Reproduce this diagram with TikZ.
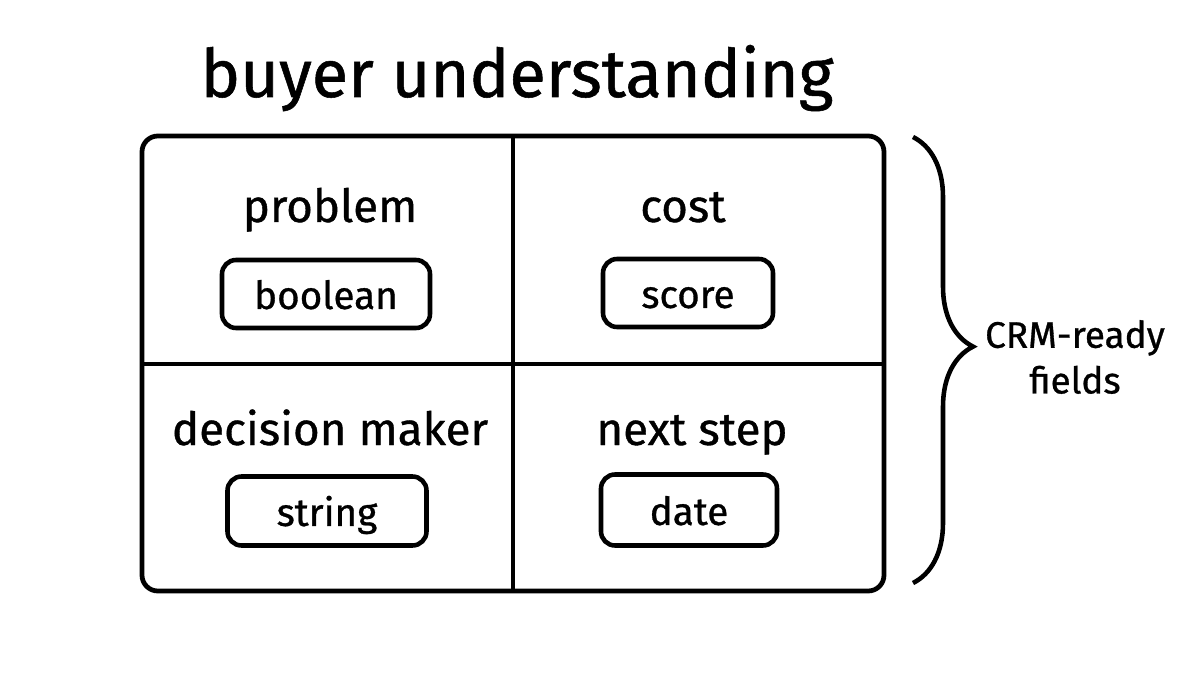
\documentclass[tikz,border=0pt]{standalone}
\usepackage{fontspec}
\setmainfont{Fira Sans}[FakeBold = 0.8]
\usetikzlibrary{decorations.pathreplacing}

\tikzset{
  fieldname/.style = {anchor = base, font = \fontsize{26}{30}\selectfont},
  typebox/.style = {draw, line width = 2.6pt, rounded corners = 8pt,
                    inner sep = 0pt, text height = 17pt, text depth = 0pt,
                    font = \fontsize{22}{24}\selectfont},
}

\begin{document}
\begin{tikzpicture}[x = .02cm, y = -.02cm]
      \useasboundingbox (0,0) rectangle (1200,675);
      \node [anchor = base, font = \fontsize{38}{42}\selectfont] (title) at (517,97) {buyer understanding};
      % the grid
      \draw [line width = 2.7pt, rounded corners = 9pt] (142,136) rectangle (884,591);
      \draw [line width = 2.7pt] (513,136) -- (513,591);
      \draw [line width = 2.7pt] (142,364) -- (884,364);
      % field names
      \node [fieldname] (problem) at (330,222) {problem};
      \node [fieldname] (cost) at (683,222) {cost};
      \node [fieldname] (decision) at (330,445) {decision maker};
      \node [fieldname] (next) at (692,445) {next step};
      % their types
      \node [typebox, minimum width = 208*.02cm, minimum height = 68*.02cm] (boolean) at (326,294) {boolean};
      \node [typebox, minimum width = 170*.02cm, minimum height = 68*.02cm] (score) at (688,293) {score};
      \node [typebox, minimum width = 199*.02cm, minimum height = 69*.02cm] (string) at (327,511) {string};
      \node [typebox, minimum width = 176*.02cm, minimum height = 71*.02cm] (date) at (689,510) {date};
      % brace
      \coordinate (top) at (913,137);
      \coordinate (bottom) at (913,583);
      \draw [line width = 2.6pt, decorate,
             decoration = {brace, amplitude = 60*.02cm, aspect = .47}] (top) -- (bottom);
      \node [align = center, font = \fontsize{21}{26}\selectfont] (crm) at (1075,357) {CRM-ready\\fields};
    \end{tikzpicture}
\end{document}
